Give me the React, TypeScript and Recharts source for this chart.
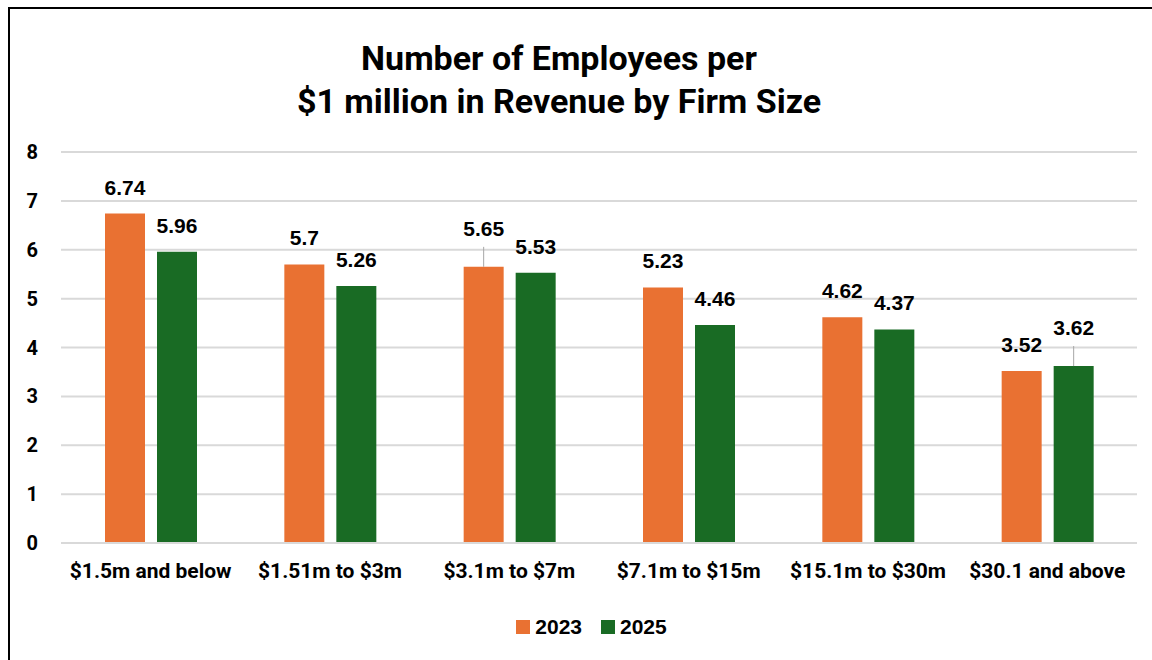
import { BarChart, Bar, XAxis, YAxis, CartesianGrid, Legend, LabelList } from 'recharts'

const sizes = [
  '$1.5m and below',
  '$1.51m to $3m',
  '$3.1m to $7m',
  '$7.1m to $15m',
  '$15.1m to $30m',
  '$30.1 and above',
]
const y2023 = [6.74, 5.7, 5.65, 5.23, 4.62, 3.52]
const y2025 = [5.96, 5.26, 5.53, 4.46, 4.37, 3.62]
const yTicks = [0, 1, 2, 3, 4, 5, 6, 7, 8]

const ORANGE = '#E97132'
const GREEN = '#196B24'
const LABEL_FONT = '"Liberation Sans", Arial, sans-serif'
const TITLE_FONT = 'Roboto, "Open Sans", sans-serif'

const data = sizes.map((s, i) => ({ size: s, a: y2023[i], b: y2025[i] }))

// labels that Excel pushed up and connected with a leader line
function makeLabel(leaders: number[]) {
  return (p: any) => {
    const { x, y, width, value, index } = p
    const cx = x + width / 2
    const lifted = leaders.includes(index)
    const base = lifted ? y - 31 : y - 19
    return (
      <g>
        {lifted && <line x1={cx} x2={cx} y1={y - 20} y2={y} stroke="#A6A6A6" strokeWidth={1} />}
        <text x={cx} y={base} textAnchor="middle" fontFamily={LABEL_FONT} fontWeight={700} fontSize={21} fill="#000">
          {value}
        </text>
      </g>
    )
  }
}

function LegendContent({ payload }: any) {
  return (
    <div
      style={{
        display: 'flex',
        justifyContent: 'center',
        gap: 19,
        paddingLeft: 46,
        fontFamily: LABEL_FONT,
        fontWeight: 700,
        fontSize: 21,
      }}
    >
      {(payload || []).map((e: any) => (
        <div key={e.value} style={{ display: 'flex', alignItems: 'center', gap: 5 }}>
          <span style={{ width: 14, height: 14, background: e.color, display: 'inline-block' }} />
          <span>{e.value}</span>
        </div>
      ))}
    </div>
  )
}

export default function App() {
  return (
    <div style={{ position: 'fixed', left: 0, top: 0, width: 1152, height: 660, background: '#fff', overflow: 'hidden' }}>
      <div style={{ position: 'absolute', left: 8, top: 7, width: 1300, height: 800, border: '2px solid #000' }} />
      <div
        style={{
          position: 'absolute',
          left: 0,
          width: 1118,
          top: 37,
          textAlign: 'center',
          fontFamily: TITLE_FONT,
          fontWeight: 700,
          fontSize: 34,
          lineHeight: '43px',
          color: '#000',
        }}
      >
        Number of Employees per
        <br />$1 million in Revenue by Firm Size
      </div>
      <div style={{ position: 'absolute', left: 0, top: 0 }}>
        <BarChart
          width={1152}
          height={660}
          data={data}
          margin={{ top: 152, right: 15, left: 0, bottom: 21 }}
          barSize={40}
          barGap={12}
        >
          <CartesianGrid vertical={false} stroke="#D9D9D9" strokeWidth={2} />
          <XAxis
            dataKey="size"
            axisLine={{ stroke: '#D9D9D9', strokeWidth: 2 }}
            tickLine={false}
            tickSize={0}
            tickMargin={20}
            height={72}
            interval={0}
            tick={{ fill: '#000', fontFamily: TITLE_FONT, fontWeight: 700, fontSize: 21 }}
          />
          <YAxis
            width={61}
            domain={[0, 8]}
            ticks={yTicks}
            axisLine={false}
            tickLine={false}
            tickSize={0}
            tickMargin={23}
            tick={{ fill: '#000', fontFamily: TITLE_FONT, fontWeight: 700, fontSize: 20 }}
          />
          <Legend verticalAlign="bottom" content={<LegendContent />} />
          <Bar dataKey="a" name="2023" fill={ORANGE} isAnimationActive={false}>
            <LabelList dataKey="a" content={makeLabel([2])} />
          </Bar>
          <Bar dataKey="b" name="2025" fill={GREEN} isAnimationActive={false}>
            <LabelList dataKey="b" content={makeLabel([5])} />
          </Bar>
        </BarChart>
      </div>
    </div>
  )
}
